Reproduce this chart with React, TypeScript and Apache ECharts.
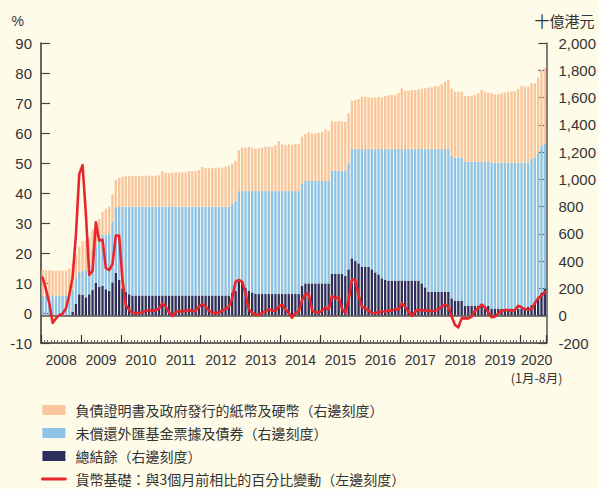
import React, { useEffect, useRef } from 'react';
import * as echarts from 'echarts';

// ---- Data (HK$ billion, right scale; % change, left scale) ----
const YEARS = ['2008', '2009', '2010', '2011', '2012', '2013', '2014', '2015', '2016', '2017', '2018', '2019', '2020'];
const MONTHS_IN_YEAR = [12, 12, 12, 12, 12, 12, 12, 12, 12, 12, 12, 12, 8];
const LAST_YEAR_NOTE = '(1月-8月)';

const LEFT_TICKS = { min: -10, max: 90, step: 10 };
const RIGHT_TICKS = { min: -200, max: 2000, step: 200 };

// 總結餘
const aggregateBalance = [
  2, 2, 2, 2, 2, 2, 2, 2, 3, 29,
  86, 157, 152, 135, 157, 188, 242, 213, 220, 194,
  181, 245, 315, 262, 201, 176, 157, 148, 148, 148,
  148, 148, 148, 148, 148, 148, 148, 148, 148, 148,
  148, 148, 148, 148, 148, 148, 148, 148, 148, 148,
  148, 148, 148, 148, 148, 148, 148, 170, 183, 250,
  257, 206, 184, 171, 159, 159, 159, 159, 159, 159,
  159, 159, 159, 159, 159, 159, 159, 159, 218, 237,
  237, 237, 237, 237, 237, 237, 237, 306, 306, 306,
  306, 291, 340, 421, 401, 384, 359, 359, 359, 340,
  318, 303, 274, 265, 257, 257, 257, 257, 257, 257,
  257, 257, 257, 257, 237, 208, 176, 176, 176, 176,
  176, 176, 176, 127, 108, 108, 108, 73, 73, 73,
  73, 73, 73, 73, 73, 52, 52, 52, 52, 52,
  52, 52, 52, 52, 52, 52, 66, 78, 103, 130,
  170, 198,
];

// 未償還外匯基金票據及債券
const exchangeFundPaper = [
  145, 145, 145, 145, 145, 145, 145, 145, 144, 161,
  184, 166, 178, 200, 227, 294, 264, 342, 372, 401,
  423, 445, 480, 538, 599, 624, 643, 652, 652, 652,
  652, 652, 652, 652, 652, 652, 652, 652, 652, 652,
  652, 652, 652, 652, 652, 652, 652, 652, 652, 652,
  652, 652, 652, 652, 652, 652, 652, 649, 658, 664,
  657, 708, 730, 743, 755, 755, 755, 755, 755, 755,
  755, 755, 755, 755, 755, 755, 755, 755, 753, 751,
  751, 751, 751, 751, 751, 751, 751, 755, 755, 755,
  755, 770, 778, 801, 821, 838, 863, 863, 863, 882,
  904, 919, 948, 957, 965, 965, 965, 965, 965, 965,
  965, 965, 965, 965, 985, 1014, 1046, 1046, 1046, 1046,
  1046, 1046, 1046, 1044, 1051, 1051, 1051, 1056, 1056, 1056,
  1056, 1056, 1056, 1056, 1060, 1070, 1070, 1070, 1070, 1070,
  1070, 1070, 1070, 1070, 1070, 1070, 1056, 1071, 1059, 1068,
  1080, 1062,
];

// 負債證明書及政府發行的紙幣及硬幣
const certificatesAndNotes = [
  188, 186, 185, 183, 183, 183, 183, 183, 200, 194,
  182, 183, 215, 215, 190, 150, 170, 155, 171, 190,
  196, 200, 200, 212, 219, 224, 224, 226, 224, 224,
  226, 228, 226, 226, 228, 230, 261, 249, 244, 249,
  249, 252, 252, 252, 261, 261, 261, 268, 290, 281,
  281, 285, 281, 286, 286, 293, 298, 293, 296, 301,
  318, 318, 325, 318, 313, 313, 318, 325, 325, 325,
  338, 367, 343, 338, 343, 338, 345, 345, 342, 344,
  357, 349, 349, 354, 361, 379, 369, 367, 362, 367,
  362, 362, 366, 355, 360, 367, 384, 384, 379, 379,
  379, 384, 379, 389, 396, 396, 396, 413, 445, 426,
  428, 433, 433, 438, 443, 445, 450, 453, 462, 462,
  477, 494, 506, 496, 484, 484, 484, 482, 482, 485,
  489, 502, 526, 514, 502, 509, 501, 501, 509, 516,
  521, 523, 523, 540, 565, 558, 558, 555, 542, 550,
  552, 559,
];

// 貨幣基礎：與3個月前相比的百分比變動
const monetaryBaseChange = [
  11.8, 7.9, 3.2, -3.3, -1.8, -0.7, -0.2, 1.5, 6.0, 11.8,
  26.0, 46.3, 49.3, 33.0, 12.7, 14.0, 30.2, 24.2, 24.4, 15.0,
  14.3, 16.3, 25.8, 25.8, 11.0, 2.7, 1.0, 0.0, 0.0, 0.0,
  0.2, 0.7, 1.0, 0.8, 0.8, 1.6, 3.2, 2.1, 0.2, -1.0,
  0.2, 0.7, 0.5, 0.8, 1.0, 0.6, 0.8, 2.1, 3.0, 2.1,
  0.8, -0.1, 0.2, 0.0, 0.8, 1.3, 2.1, 4.9, 10.4, 11.0,
  10.4, 6.6, 1.2, 0.0, -0.6, -0.6, 0.0, 0.5, 1.2, 0.8,
  0.8, 2.1, 2.8, 1.2, 0.0, -1.6, 0.0, 0.5, 4.3, 6.3,
  6.3, 1.0, 0.2, 0.2, 0.8, 1.8, 1.2, 5.7, 4.9, 5.2,
  1.5, 0.0, 4.3, 11.2, 11.0, 6.0, 2.1, 1.6, 0.8, -0.1,
  0.0, 0.2, 0.5, 0.5, 0.8, 0.8, 1.2, 1.2, 3.2, 2.1,
  0.5, -1.0, 0.5, 1.0, 1.0, 0.8, 0.8, 0.5, 0.8, 1.2,
  2.1, 2.8, 2.1, -1.2, -4.0, -4.8, -1.8, -1.8, -1.8, -1.2,
  0.8, 1.6, 2.8, 1.9, 0.2, -1.4, -1.2, -0.1, 0.7, 1.0,
  1.0, 0.8, 1.0, 2.4, 1.9, 1.3, 1.2, 1.3, 3.2, 4.9,
  5.8, 7.0,
];

const SERIES_NAMES = {
  ci: '負債證明書及政府發行的紙幣及硬幣（右邊刻度）',
  ef: '未償還外匯基金票據及債券（右邊刻度）',
  ab: '總結餘（右邊刻度）',
  mb: '貨幣基礎：與3個月前相比的百分比變動（左邊刻度）',
};

// ---- Category axis built from the year list ----
const monthCategories: string[] = [];
const yearLabelIndex = new Set<number>();
let noteIndex = 0;
YEARS.forEach((y, yi) => {
  const start = monthCategories.length;
  const n = MONTHS_IN_YEAR[yi];
  for (let m = 1; m <= n; m++) monthCategories.push(`${y}-${String(m).padStart(2, '0')}`);
  const idx = start + (n === 12 ? 6 : 5);
  yearLabelIndex.add(idx);
  if (yi === YEARS.length - 1) noteIndex = idx;
});

const NUM_FONT = '"Liberation Sans", Arial, sans-serif';
const NARROW_FONT = '"Liberation Sans Narrow", "Liberation Sans", Arial, sans-serif';
const CJK_FONT = '"Noto Sans CJK TC", "Noto Sans CJK SC", sans-serif';
const TEXT = '#333333';
const RED = '#E8262B';

const option: any = {
  animation: false,
  backgroundColor: '#FFFBE9',
  grid: { left: 41, right: 52, top: 43, bottom: 146, containLabel: false },
  legend: {
    orient: 'vertical',
    left: 41,
    top: 403,
    height: 85,
    padding: 0,
    itemWidth: 23,
    itemHeight: 10,
    itemGap: 9,
    selectedMode: false,
    textStyle: { fontSize: 14, lineHeight: 14, color: TEXT, fontFamily: CJK_FONT, padding: [0, 0, 0, 5] },
    data: [
      { name: SERIES_NAMES.ci, icon: 'rect' },
      { name: SERIES_NAMES.ef, icon: 'rect' },
      { name: SERIES_NAMES.ab, icon: 'rect' },
      { name: SERIES_NAMES.mb, itemStyle: { opacity: 0, color: 'rgba(0,0,0,0)', borderWidth: 0 }, lineStyle: { color: RED, width: 2.8 } },
    ],
  },
  xAxis: [
    {
      type: 'category',
      data: monthCategories,
      boundaryGap: true,
      position: 'bottom',
      axisLine: { show: true, onZero: false, lineStyle: { color: TEXT, width: 1.5 } },
      axisTick: { show: true, inside: true, length: 3, interval: 0, lineStyle: { color: '#666', width: 1 } },
      axisLabel: {
        show: true,
        interval: (index: number) => yearLabelIndex.has(index),
        showMinLabel: true,
        showMaxLabel: true,
        hideOverlap: false,
        margin: 10,
        padding: [0, 3, 0, 0],
        fontSize: 14,
        fontFamily: NARROW_FONT,
        color: TEXT,
        formatter: (value: string) => value.slice(0, 4),
      },
      splitLine: { show: false },
    },
    {
      type: 'category',
      data: monthCategories,
      boundaryGap: true,
      position: 'bottom',
      axisLine: { show: false, onZero: false },
      axisTick: {
        show: true,
        inside: true,
        length: 8,
        interval: (index: number) => monthCategories[index].endsWith('-01'),
        lineStyle: { color: TEXT, width: 1.2 },
      },
      axisLabel: {
        show: true,
        interval: (index: number) => index === noteIndex,
        showMinLabel: false,
        showMaxLabel: false,
        margin: 28,
        padding: [0, 3, 0, 0],
        fontSize: 12.5,
        fontFamily: CJK_FONT,
        color: TEXT,
        formatter: () => LAST_YEAR_NOTE,
      },
      splitLine: { show: false },
    },
  ],
  yAxis: [
    {
      type: 'value',
      position: 'left',
      min: LEFT_TICKS.min,
      max: LEFT_TICKS.max,
      interval: LEFT_TICKS.step,
      name: '%',
      nameLocation: 'end',
      nameGap: 15,
      nameTextStyle: { fontSize: 14, color: TEXT, fontFamily: NUM_FONT, align: 'right', padding: [0, 17, 0, 0] },
      axisLine: { show: true, lineStyle: { color: TEXT, width: 1.5 } },
      axisTick: { show: true, inside: true, length: 9, lineStyle: { color: '#444', width: 1.2 } },
      axisLabel: { fontSize: 15, color: TEXT, fontFamily: NUM_FONT, margin: 9 },
      splitLine: { show: false },
    },
    {
      type: 'value',
      position: 'right',
      min: RIGHT_TICKS.min,
      max: RIGHT_TICKS.max,
      interval: RIGHT_TICKS.step,
      name: '十億港元',
      nameLocation: 'end',
      nameGap: 15,
      nameTextStyle: { fontSize: 15, color: TEXT, fontFamily: CJK_FONT, align: 'center', padding: [0, 0, 0, 36] },
      axisLine: { show: true, lineStyle: { color: '#555', width: 1.5 } },
      axisTick: { show: true, inside: true, length: 8, lineStyle: { color: '#444', width: 1.2 } },
      axisLabel: {
        fontSize: 15,
        color: TEXT,
        fontFamily: NUM_FONT,
        margin: 12,
        formatter: (v: number) => v.toLocaleString('en-US'),
      },
      splitLine: { show: false },
    },
  ],
  series: [
    {
      name: SERIES_NAMES.ab,
      type: 'bar',
      stack: 'base',
      xAxisIndex: 0,
      yAxisIndex: 1,
      data: aggregateBalance,
      barCategoryGap: '30%',
      itemStyle: { color: '#2D2E5E' },
      markLine: {
        silent: true,
        symbol: 'none',
        label: { show: false },
        lineStyle: { color: '#555', width: 1.5, type: 'solid' },
        data: [{ yAxis: 0 }],
      },
    },
    {
      name: SERIES_NAMES.ef,
      type: 'bar',
      stack: 'base',
      xAxisIndex: 0,
      yAxisIndex: 1,
      data: exchangeFundPaper,
      barCategoryGap: '30%',
      itemStyle: { color: '#8DC3E9' },
    },
    {
      name: SERIES_NAMES.ci,
      type: 'bar',
      stack: 'base',
      xAxisIndex: 0,
      yAxisIndex: 1,
      data: certificatesAndNotes,
      barCategoryGap: '30%',
      itemStyle: { color: '#F9C59B' },
    },
    {
      name: SERIES_NAMES.mb,
      type: 'line',
      xAxisIndex: 0,
      yAxisIndex: 0,
      data: monetaryBaseChange,
      symbol: 'none',
      showSymbol: false,
      smooth: false,
      z: 5,
      itemStyle: { color: RED },
      lineStyle: { color: RED, width: 2.6, join: 'round', cap: 'round' },
    },
  ],
};

export default function App() {
  const ref = useRef<HTMLDivElement>(null);
  useEffect(() => {
    document.body.style.margin = '0';
    const chart = echarts.init(ref.current!, undefined, { renderer: 'svg' });
    chart.setOption(option);
    return () => chart.dispose();
  }, []);
  return <div ref={ref} style={{ position: 'absolute', left: 0, top: 0, width: 599, height: 489 }} />;
}
